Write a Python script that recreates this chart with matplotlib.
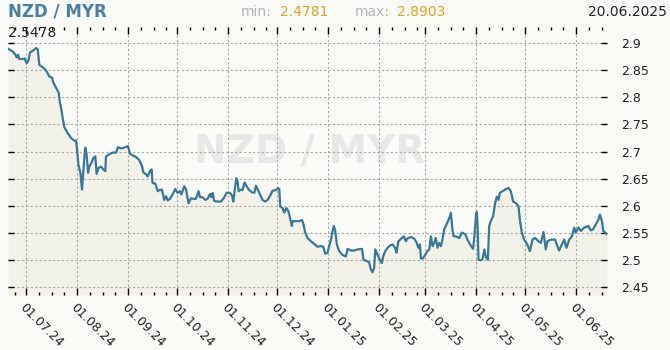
import matplotlib
matplotlib.use("Agg")
import matplotlib.pyplot as plt
import matplotlib.dates as mdates
import numpy as np
import datetime as dt

# ---- data ----
start_date = "2024-06-20"
end_date = "2025-06-20"
day_offsets = [
    0, 2.8, 4.5, 5.3, 6.1, 6.9, 8.9, 10.1, 11.4, 12.4, 13.4, 15.0, 17.1, 18.1, 19.1, 21.1, 23.2, 25.2,
    26.8, 27.6, 29.3, 30.9, 31.7, 32.3, 33.3, 34.3, 36.3, 38.4, 40.4, 41.5, 42.1, 42.9, 44.1, 45.1,
    45.9, 46.7, 47.1, 47.9, 48.8, 49.6, 50.8, 52.0, 53.2, 54.0, 55.2, 56.7, 58.1, 59.3, 59.7, 61.7,
    63.7, 65.8, 67.0, 68.3, 69.8, 71.5, 73.1, 74.3, 75.9, 78.0, 80.0, 81.7, 82.4, 84.1, 85.1, 86.5,
    87.5, 88.1, 89.8, 91.2, 92.2, 93.8, 95.2, 96.3, 97.3, 98.7, 100.3, 101.9, 103.3, 104.8, 105.6,
    107.4, 108.5, 110.0, 111.5, 112.9, 114.5, 116.1, 117.0, 118.6, 120.2, 121.6, 123.1, 123.9, 124.7,
    125.7, 127.7, 129.8, 131.8, 133.2, 135.3, 136.5, 137.3, 138.1, 139.1, 139.9, 140.5, 142.0, 142.9,
    144.1, 145.4, 147.0, 148.7, 150.1, 151.1, 153.1, 155.1, 156.8, 158.2, 159.6, 161.2, 163.3, 164.5,
    165.3, 165.9, 167.3, 168.3, 169.7, 170.9, 172.4, 173.0, 173.4, 175.5, 177.5, 179.1, 179.9, 181.1,
    182.5, 184.6, 186.6, 188.6, 190.7, 192.1, 193.3, 194.7, 195.7, 196.8, 197.8, 198.6, 199.4, 200.4,
    201.8, 203.8, 205.9, 206.9, 209.0, 211.0, 213.0, 215.7, 216.6, 219.1, 220.1, 221.1, 222.1, 223.1,
    223.8, 225.2, 226.6, 227.8, 228.6, 229.9, 231.3, 232.7, 234.3, 235.9, 236.7, 237.9, 240.0, 241.2,
    242.5, 243.4, 245.5, 247.5, 248.9, 250.1, 251.0, 251.6, 253.0, 254.2, 255.6, 256.7, 257.7, 258.7,
    259.7, 260.7, 261.7, 262.7, 263.8, 264.7, 265.8, 267.2, 268.8, 269.9, 270.8, 271.5, 272.9, 274.9,
    276.6, 278.6, 280.0, 282.0, 283.4, 284.2, 285.1, 285.7, 286.3, 286.7, 288.1, 289.1, 290.3, 291.2,
    292.4, 293.2, 294.2, 295.6, 296.8, 297.9, 298.9, 299.7, 301.3, 303.4, 305.0, 306.4, 307.8, 309.5,
    311.1, 311.9, 313.1, 314.5, 316.5, 318.0, 319.6, 321.2, 323.2, 324.7, 326.3, 327.7, 328.7, 330.8,
    333.4, 334.4, 335.8, 337.5, 338.9, 340.3, 342.0, 343.6, 345.0, 346.0, 347.6, 349.1, 351.1, 353.7,
    355.1, 356.5, 358.2, 359.8, 360.7, 361.9, 362.7, 365,
]
rates = [
    2.889, 2.884, 2.878, 2.873, 2.878, 2.870, 2.870, 2.871, 2.862, 2.867, 2.882, 2.885, 2.8903, 2.888,
    2.859, 2.855, 2.849, 2.838, 2.836, 2.827, 2.817, 2.808, 2.789, 2.781, 2.762, 2.745, 2.734, 2.725,
    2.720, 2.720, 2.703, 2.676, 2.661, 2.630, 2.664, 2.695, 2.707, 2.695, 2.661, 2.673, 2.679, 2.688,
    2.691, 2.659, 2.670, 2.672, 2.667, 2.664, 2.691, 2.695, 2.698, 2.698, 2.708, 2.706, 2.706, 2.708,
    2.710, 2.696, 2.693, 2.690, 2.684, 2.673, 2.662, 2.658, 2.654, 2.664, 2.667, 2.642, 2.641, 2.627,
    2.629, 2.630, 2.611, 2.618, 2.610, 2.613, 2.621, 2.631, 2.624, 2.627, 2.621, 2.636, 2.630, 2.605,
    2.614, 2.613, 2.613, 2.627, 2.616, 2.616, 2.611, 2.613, 2.622, 2.616, 2.624, 2.609, 2.608, 2.608,
    2.616, 2.624, 2.624, 2.619, 2.608, 2.627, 2.651, 2.645, 2.627, 2.630, 2.629, 2.643, 2.636, 2.629,
    2.625, 2.624, 2.637, 2.624, 2.611, 2.608, 2.611, 2.618, 2.628, 2.629, 2.633, 2.631, 2.599, 2.596,
    2.588, 2.596, 2.590, 2.571, 2.563, 2.572, 2.572, 2.572, 2.574, 2.568, 2.551, 2.541, 2.535, 2.530,
    2.525, 2.526, 2.525, 2.512, 2.514, 2.526, 2.538, 2.554, 2.563, 2.554, 2.529, 2.517, 2.510, 2.507,
    2.521, 2.518, 2.518, 2.520, 2.521, 2.501, 2.498, 2.496, 2.483, 2.4781, 2.486, 2.520, 2.510, 2.501,
    2.495, 2.507, 2.517, 2.523, 2.527, 2.529, 2.523, 2.514, 2.535, 2.541, 2.544, 2.535, 2.540, 2.543,
    2.540, 2.533, 2.523, 2.529, 2.503, 2.504, 2.510, 2.517, 2.520, 2.544, 2.526, 2.532, 2.541, 2.523,
    2.532, 2.526, 2.538, 2.557, 2.566, 2.577, 2.587, 2.557, 2.544, 2.544, 2.541, 2.551, 2.548, 2.538,
    2.527, 2.521, 2.544, 2.581, 2.589, 2.551, 2.501, 2.500, 2.502, 2.520, 2.506, 2.501, 2.563, 2.572,
    2.581, 2.605, 2.617, 2.611, 2.624, 2.627, 2.631, 2.633, 2.627, 2.608, 2.605, 2.599, 2.575, 2.551,
    2.538, 2.529, 2.517, 2.538, 2.541, 2.535, 2.532, 2.552, 2.520, 2.535, 2.538, 2.538, 2.529, 2.518,
    2.529, 2.538, 2.523, 2.538, 2.544, 2.560, 2.551, 2.560, 2.554, 2.560, 2.563, 2.555, 2.557, 2.566,
    2.575, 2.584, 2.572, 2.554, 2.5478,
]
y_ticks = [2.45, 2.5, 2.55, 2.6, 2.65, 2.7, 2.75, 2.8, 2.85, 2.9]
title = "NZD / MYR"
min_label = "2.4781"
max_label = "2.8903"
last_label = "2.5478"
date_label = "20.06.2025"

# ---- figure ----
W, H = 670, 350
fig = plt.figure(figsize=(W / 100, H / 100), dpi=100)
fig.patch.set_facecolor("#fbfbf7")

def px(x, y):
    return x / W, 1 - y / H

ax = fig.add_axes([8 / W, 1 - 295 / H, 599 / W, 268 / H])
ax.set_facecolor("#fbfbf7")

t0 = dt.datetime.strptime(start_date, "%Y-%m-%d")
t1 = dt.datetime.strptime(end_date, "%Y-%m-%d")
dates = [t0 + dt.timedelta(days=d) for d in day_offsets]
ymin, ymax = 2.4362, 2.9289

ax.fill_between(dates, rates, ymin, color="#f2f2e9", zorder=1, linewidth=0)
ax.plot(dates, rates, color="#3a7898", linewidth=1.6, zorder=3, solid_joinstyle="round")

ax.set_xlim(t0, t1)
ax.set_ylim(ymin, ymax)

for s in ax.spines.values():
    s.set_visible(False)

ax.set_yticks(y_ticks)
ax.set_yticklabels([f"{v:g}" for v in y_ticks])
ax.yaxis.tick_right()
ax.tick_params(axis="y", which="major", direction="in", length=4, width=1, color="black",
               left=True, right=True, labelleft=False, labelright=True, labelsize=9, pad=10,
               labelcolor="#222222")

ax.xaxis.set_major_locator(mdates.MonthLocator(bymonthday=1))
ax.xaxis.set_major_formatter(mdates.DateFormatter("%d.%m.%y"))
ax.xaxis.set_minor_locator(mdates.DayLocator(bymonthday=[9, 17, 24]))
ax.tick_params(axis="x", which="major", direction="in", length=5, width=1, color="black",
               top=True, bottom=True, labelsize=9, pad=4, labelcolor="#222222")
ax.tick_params(axis="x", which="minor", direction="in", length=2.5, width=1, color="black",
               top=True, bottom=True)
for lab in ax.get_xticklabels():
    lab.set_rotation(-45)
    lab.set_ha("left")
    lab.set_rotation_mode("anchor")

ax.grid(True, which="major", axis="both", color="#a8a8a8", linewidth=0.8, linestyle=(0, (2, 2)), zorder=2)
for gl in ax.get_xgridlines() + ax.get_ygridlines():
    gl.set_zorder(2)

# watermark texts
ax.text(*px(310, 151), title, transform=fig.transFigure, fontsize=28, fontweight="bold",
        color="#e8e8e8", ha="center", va="center", zorder=0.5)
ax.text(*px(22, 265), "www.kurzy.cz", transform=fig.transFigure, fontsize=11,
        color="#c6c6c6", ha="left", va="center", zorder=0.5)

# header texts
fig.text(*px(8, 12), title, fontsize=12, fontweight="bold", color="#4a80a3", ha="left", va="center")
fig.text(*px(241, 12), "min:", fontsize=10, color="#b4b4b4", ha="left", va="center")
fig.text(*px(280, 12), min_label, fontsize=10, color="#e0a422", ha="left", va="center")
fig.text(*px(355, 12), "max:", fontsize=10, color="#b4b4b4", ha="left", va="center")
fig.text(*px(397, 12), max_label, fontsize=10, color="#e0a422", ha="left", va="center")
fig.text(*px(667, 12), date_label, fontsize=10, color="#222222", ha="right", va="center")
fig.text(*px(8, 33), last_label, fontsize=10, color="#222222", ha="left", va="center", zorder=5)

fig.savefig("out.png", dpi=100, facecolor=fig.get_facecolor())
